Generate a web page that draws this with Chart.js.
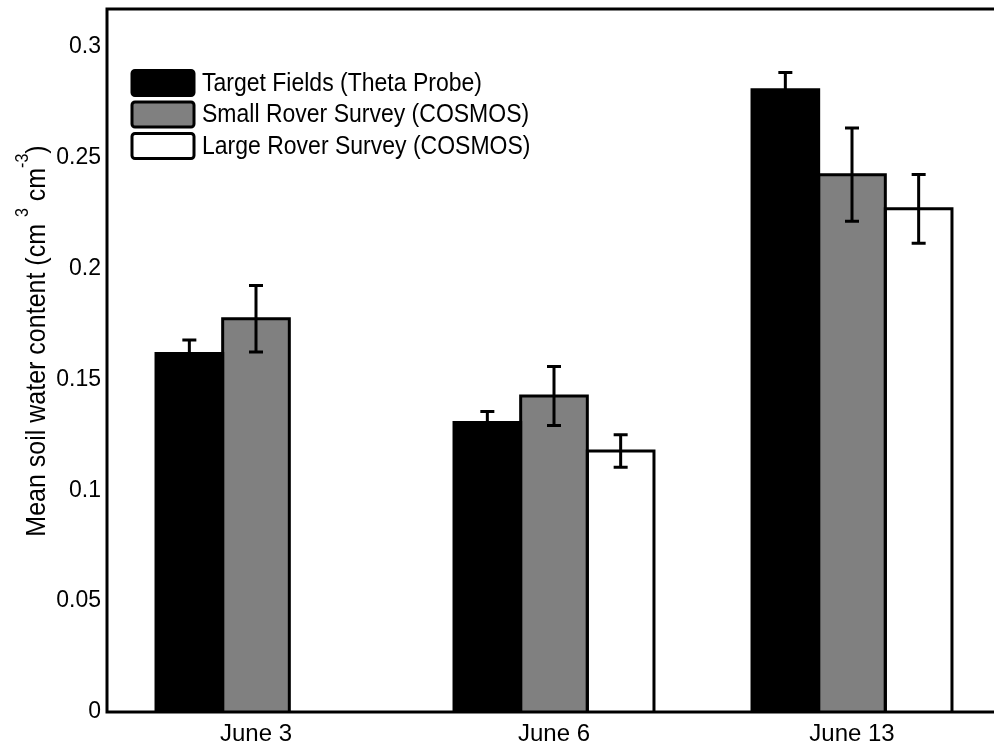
<!DOCTYPE html>
<html>
<head>
<meta charset="utf-8">
<script src="https://cdn.jsdelivr.net/npm/chart.js@4/dist/chart.umd.min.js"></script>
<style>
  html, body { margin: 0; padding: 0; background: #fff; overflow: hidden; }
  canvas { display: block; }
</style>
</head>
<body>
<canvas id="chart1" width="1010" height="749"></canvas>
<script>
// data
const dates = ['June 3', 'June 6', 'June 13'];
const targetFields = [0.1617, 0.1305, 0.2806];
const targetErr = [0.006, 0.005, 0.0078];
const smallRover = [0.1773, 0.1425, 0.2423];
const smallErr = [0.015, 0.0133, 0.021];
const largeRover = [null, 0.1177, 0.2269];
const largeErr = [null, 0.0073, 0.0155];
const yTicks = [0, 0.05, 0.1, 0.15, 0.2, 0.25, 0.3];

const seriesNames = ['Target Fields (Theta Probe)', 'Small Rover Survey (COSMOS)', 'Large Rover Survey (COSMOS)'];
const fills = ['#000000', '#808080', '#ffffff'];
const errs = [targetErr, smallErr, largeErr];

const FONT = "'Liberation Sans', Arial, sans-serif";

// bar outlines (shared edges stay one line wide) and error bars
const barExtras = {
  id: 'barExtras',
  afterDatasetsDraw(chart) {
    const ctx = chart.ctx;
    const y = chart.scales.y;
    ctx.save();
    ctx.strokeStyle = '#000';
    ctx.lineWidth = 3;
    chart.data.datasets.forEach((ds, di) => {
      chart.getDatasetMeta(di).data.forEach((bar, i) => {
        if (ds.data[i] == null) return;
        const p = bar.getProps(['x', 'y', 'base', 'width'], true);
        ctx.beginPath();
        ctx.moveTo(p.x - p.width / 2, p.base);
        ctx.lineTo(p.x - p.width / 2, p.y);
        ctx.lineTo(p.x + p.width / 2, p.y);
        ctx.lineTo(p.x + p.width / 2, p.base);
        ctx.stroke();
      });
    });
    chart.data.datasets.forEach((ds, di) => {
      chart.getDatasetMeta(di).data.forEach((bar, i) => {
        const v = ds.data[i];
        const e = errs[di][i];
        if (v == null || e == null) return;
        const x = bar.x;
        const top = y.getPixelForValue(v + e);
        const bot = y.getPixelForValue(v - e);
        ctx.beginPath();
        ctx.moveTo(x, top); ctx.lineTo(x, bot);
        ctx.moveTo(x - 7, top); ctx.lineTo(x + 7, top);
        ctx.moveTo(x - 7, bot); ctx.lineTo(x + 7, bot);
        ctx.stroke();
      });
    });
    ctx.restore();
  }
};

// frame, legend inside the axes, and y title with superscripts
const decorations = {
  id: 'decorations',
  afterDraw(chart) {
    const ctx = chart.ctx;
    const a = chart.chartArea;
    ctx.save();
    ctx.strokeStyle = '#000';
    ctx.lineWidth = 3;
    ctx.strokeRect(a.left, a.top, a.right - a.left, a.bottom - a.top);

    // legend
    ctx.textBaseline = 'middle';
    ctx.textAlign = 'left';
    chart.data.datasets.forEach((ds, i) => {
      const cy = 83 + i * 31.5;
      ctx.beginPath();
      ctx.roundRect(132, cy - 12.5, 62, 25, 3);
      ctx.fillStyle = ds.backgroundColor;
      ctx.fill();
      ctx.lineWidth = 3;
      ctx.stroke();
      ctx.save();
      ctx.translate(202, cy + 1);
      ctx.scale(1, 1.1);
      ctx.font = '23px ' + FONT;
      ctx.fillStyle = '#000';
      ctx.fillText(ds.label, 0, 0);
      ctx.restore();
    });

    // y axis title
    const parts = [
      ['Mean soil water content (cm ', false],
      ['3', true],
      [' cm', false],
      ['-3', true],
      [')', false]
    ];
    const big = '25px ' + FONT, small = '16px ' + FONT;
    let total = 0;
    parts.forEach(p => { ctx.font = p[1] ? small : big; total += ctx.measureText(p[0]).width; });
    ctx.translate(45, 341);
    ctx.rotate(-Math.PI / 2);
    ctx.scale(1, 1.12);
    ctx.textBaseline = 'alphabetic';
    ctx.fillStyle = '#000';
    let x = -total / 2;
    parts.forEach(p => {
      ctx.font = p[1] ? small : big;
      ctx.fillText(p[0], x, p[1] ? -15 : 0);
      x += ctx.measureText(p[0]).width;
    });
    ctx.restore();
  }
};

const datasets = [targetFields, smallRover, largeRover].map((d, i) => ({
  label: seriesNames[i],
  data: d,
  backgroundColor: fills[i],
  borderWidth: 0,
  barPercentage: 1.0,
  categoryPercentage: 0.671
}));

const config = {
  type: 'bar',
  data: { labels: dates, datasets: datasets },
  options: {
    responsive: false,
    animation: false,
    layout: { padding: { left: 0, top: 9, right: 9, bottom: 0 } },
    plugins: { legend: { display: false }, tooltip: { enabled: false } },
    scales: {
      x: {
        grid: { display: false, drawTicks: false },
        border: { display: false },
        ticks: { color: '#000', font: { family: FONT, size: 24 }, padding: 8 },
        afterFit(s) { s.height = 37; s.paddingLeft = 0; s.paddingRight = 0; }
      },
      y: {
        min: 0,
        max: 0.317,
        grid: { display: false, drawTicks: false },
        border: { display: false },
        afterBuildTicks(s) { s.ticks = yTicks.map(v => ({ value: v })); },
        ticks: {
          color: '#000',
          font: { family: FONT, size: 23 },
          padding: 6,
          callback: v => String(Number(v.toFixed(2)))
        },
        afterFit(s) { s.width = 107; s.paddingTop = 0; s.paddingBottom = 0; }
      }
    }
  },
  plugins: [barExtras, decorations]
};

const myChart = new Chart(document.getElementById('chart1'), config);
</script>
</body>
</html>
